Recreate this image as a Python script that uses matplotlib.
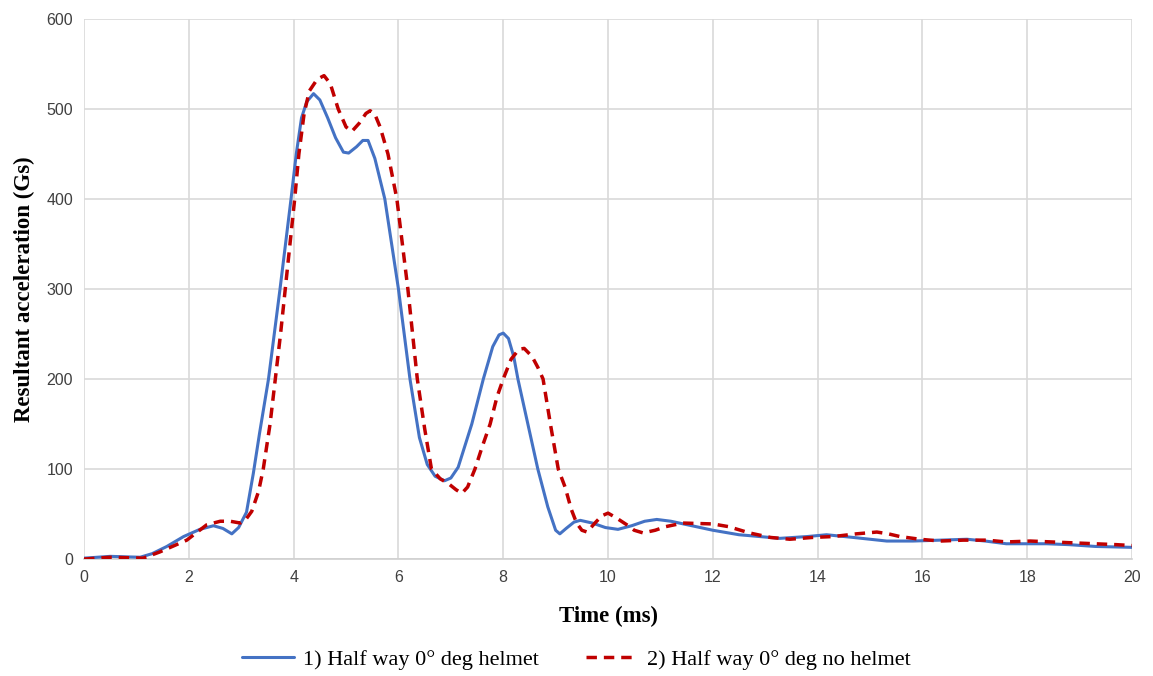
import matplotlib
matplotlib.use("Agg")
import matplotlib.pyplot as plt

# Series 1: Half way 0° deg helmet
t_helmet = [0, 0.5, 1.07, 1.3, 1.58, 1.9, 2.21, 2.47, 2.65, 2.82, 2.95, 3.1, 3.23, 3.35, 3.52,
            3.74, 3.95, 4.05, 4.15, 4.25, 4.38, 4.5, 4.65, 4.8, 4.95, 5.05, 5.2, 5.32, 5.42,
            5.55, 5.74, 6.0, 6.22, 6.4, 6.55, 6.7, 6.88, 7.0, 7.14, 7.4, 7.62, 7.8, 7.92,
            8.0, 8.1, 8.2, 8.28, 8.47, 8.66, 8.85, 9.0, 9.08, 9.2, 9.35, 9.47, 9.7, 9.95,
            10.19, 10.45, 10.7, 10.93, 11.2, 11.6, 12.0, 12.5, 12.7, 13.28, 13.8, 14.17,
            14.68, 15.0, 15.32, 15.82, 16.34, 16.85, 17.2, 17.6, 18.37, 18.8, 19.3, 20.0]
a_helmet = [1, 3, 2, 6, 14, 25, 33, 37, 34, 28, 35, 52, 95, 140, 200,
            300, 400, 450, 490, 508, 517, 510, 490, 468, 452, 451, 458, 465, 465,
            445, 400, 300, 200, 135, 105, 92, 87, 90, 102, 150, 200, 236, 249,
            251, 245, 225, 200, 150, 100, 58, 32, 28, 34, 41, 43, 40, 35,
            33, 37, 42, 44, 42, 37, 32, 27, 26, 23, 25, 27,
            24, 22, 20, 20, 21, 22, 20, 17, 17, 16, 14, 13]

# Series 2: Half way 0° deg no helmet
t_nohelmet = [0, 0.5, 1.13, 1.45, 1.96, 2.34, 2.6, 2.79, 2.98, 3.1, 3.2, 3.33, 3.42, 3.55,
              3.65, 3.75, 3.84, 3.93, 4.02, 4.1, 4.2, 4.3, 4.45, 4.58, 4.7, 4.85, 5.0,
              5.11, 5.25, 5.38, 5.46, 5.55, 5.65, 5.8, 5.97, 6.18, 6.36, 6.5, 6.63, 6.8,
              6.95, 7.1, 7.21, 7.32, 7.46, 7.6, 7.75, 7.88, 8.0, 8.15, 8.3, 8.4, 8.55,
              8.66, 8.76, 8.9, 9.05, 9.18, 9.3, 9.4, 9.5, 9.6, 9.75, 9.88, 10.0, 10.15,
              10.36, 10.5, 10.67, 10.9, 11.1, 11.43, 12.0, 12.3, 12.7, 13.1, 13.47, 13.9,
              14.3, 14.74, 15.13, 15.35, 15.57, 15.95, 16.34, 16.78, 17.23, 17.6, 18.06,
              18.88, 19.7, 20.0]
a_nohelmet = [0, 2, 1, 8, 21, 38, 42, 42, 40, 45, 53, 75, 100, 150,
              200, 250, 300, 350, 400, 450, 495, 520, 533, 537, 528, 500, 480,
              475, 484, 495, 498, 494, 480, 450, 400, 300, 200, 145, 100, 89,
              84, 77, 73, 80, 100, 125, 150, 180, 200, 222, 233, 234, 225,
              213, 200, 150, 100, 80, 55, 40, 32, 30, 40, 48, 51, 46,
              38, 32, 29, 32, 36, 40, 39, 36, 29, 24, 22, 24,
              25, 28, 30, 28, 25, 22, 20, 21, 21, 19, 20,
              18, 16, 15]

x_ticks = list(range(0, 21, 2))
y_ticks = list(range(0, 601, 100))

fig = plt.figure(figsize=(11.53, 6.76), dpi=100)
ax = fig.add_axes([0.0729, 0.173, 0.9089, 0.799])

l1, = ax.plot(t_helmet, a_helmet, color="#4472C4", lw=2.2, solid_joinstyle="round",
              solid_capstyle="round", label="1) Half way 0° deg helmet", zorder=3)
l2, = ax.plot(t_nohelmet, a_nohelmet, color="#C00000", lw=2.5, linestyle=(0, (3.0, 2.0)),
              dash_joinstyle="round", label="2) Half way 0° deg no helmet", zorder=4)

ax.set_xlim(0, 20)
ax.set_ylim(0, 600)
ax.set_xticks(x_ticks)
ax.set_yticks(y_ticks)
ax.grid(True, color="#D9D9D9", lw=1.2)
ax.set_axisbelow(True)
for s in ["top", "right", "left"]:
    ax.spines[s].set_visible(False)
ax.spines["bottom"].set_color("#D0D0D0")
ax.spines["bottom"].set_linewidth(1.2)
ax.tick_params(length=0, labelsize=11.5, colors="#404040", pad=8)
for lab in ax.get_xticklabels() + ax.get_yticklabels():
    lab.set_family("Liberation Sans")

ax.set_xlabel("Time (ms)", family="Liberation Serif", fontweight="bold", fontsize=16.5,
              labelpad=15)
ax.set_ylabel("Resultant acceleration (Gs)", family="Liberation Serif", fontweight="bold",
              fontsize=16.5, labelpad=8)

leg = fig.legend(handles=[l1, l2], loc="center", bbox_to_anchor=(0.5, 0.024), ncol=2,
                 frameon=False, prop={"family": "Liberation Serif", "size": 16},
                 handlelength=2.35, columnspacing=2.1, handletextpad=0.4)

fig.savefig("out.png", dpi=100)
